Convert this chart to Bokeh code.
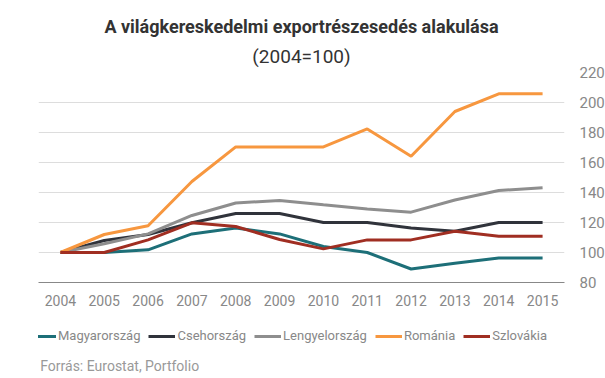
from bokeh.plotting import figure
from bokeh.models import (ColumnDataSource, Legend, LegendItem, Title, FixedTicker,
                          LinearAxis, Range1d, Label)
from bokeh.layouts import column
from bokeh.embed import file_html
from bokeh.resources import INLINE

years = [2004, 2005, 2006, 2007, 2008, 2009, 2010, 2011, 2012, 2013, 2014, 2015]
magyarorszag = [100, 100, 101.8, 112.4, 116.4, 112.4, 104, 100, 89, 92.9, 96.4, 96.4]
csehorszag = [100, 108, 112, 119.8, 126, 126, 120, 120, 116.4, 114.2, 120, 120]
lengyelorszag = [100, 105.8, 112.4, 124.7, 133, 134.7, 131.8, 129, 126.9, 135, 141.3, 143.1]
romania = [100, 112, 117.8, 147.3, 170.4, 170.4, 170.4, 182.4, 164.2, 194, 205.8, 205.8]
szlovakia = [100, 100, 108.4, 119.8, 117.3, 108.7, 102.4, 108.4, 108.4, 114.2, 110.9, 110.9]

series_names = ["Magyarország", "Csehország", "Lengyelország", "Románia", "Szlovákia"]
series_values = [magyarorszag, csehorszag, lengyelorszag, romania, szlovakia]
colors = ["#1d6f78", "#30333b", "#8e8e8e", "#f7973f", "#a02e22"]
y_ticks = [80, 100, 120, 140, 160, 180, 200, 220]

FONT = "Roboto"

p = figure(frame_width=526, frame_height=210, output_backend="svg", toolbar_location=None,
           x_range=Range1d(2003.5, 2015.5), y_range=Range1d(80, 220),
           y_axis_location=None, x_axis_location=None,
           min_border_left=38, min_border_right=0, min_border_top=72,
           min_border_bottom=0, outline_line_color=None)
p.background_fill_color = "white"
p.border_fill_color = "white"

# Titles
p.title.visible = False
sub = Title(text="(2004=100)", align="center", text_font=FONT, text_font_size="19px",
            text_font_style="normal", text_color="#333333", standoff=10)
main = Title(text="A világkereskedelmi exportrészesedés alakulása", align="center",
             text_font=FONT, text_font_size="18px", text_font_style="bold",
             text_color="#333333", standoff=1)
p.add_layout(sub, "above")
p.add_layout(main, "above")

# Axes
xaxis = LinearAxis(ticker=FixedTicker(ticks=years))
xaxis.axis_line_color = "#888888"
xaxis.axis_line_width = 1
xaxis.major_tick_line_color = None
xaxis.minor_tick_line_color = None
xaxis.major_tick_out = 0
xaxis.major_tick_in = 0
xaxis.major_label_text_font = FONT
xaxis.major_label_text_font_size = "14px"
xaxis.major_label_text_color = "#888888"
xaxis.major_label_standoff = 12
p.add_layout(xaxis, "below")

yaxis = LinearAxis(ticker=FixedTicker(ticks=y_ticks))
yaxis.axis_line_color = None
yaxis.major_tick_line_color = None
yaxis.minor_tick_line_color = None
yaxis.major_tick_out = 0
yaxis.major_tick_in = 0
yaxis.major_label_text_font = FONT
yaxis.major_label_text_font_size = "15px"
yaxis.major_label_text_color = "#888888"
yaxis.major_label_standoff = 15
p.add_layout(yaxis, "right")

p.xgrid.visible = False
p.ygrid.ticker = FixedTicker(ticks=y_ticks)
p.ygrid.grid_line_color = "#dddddd"
p.ygrid.grid_line_width = 1

sources = []
for name, vals, col in zip(series_names, series_values, colors):
    src = ColumnDataSource(dict(x=years, y=vals))
    sources.append(src)
    p.line("x", "y", source=src, line_color=col, line_width=3)

# Footer figure: legend + source (its lines lie outside its visible range)
f = figure(width=597, height=66, output_backend="svg", toolbar_location=None,
           x_range=Range1d(0, 597), y_range=Range1d(0, 66),
           x_axis_location=None, y_axis_location=None,
           min_border_left=0, min_border_right=0, min_border_top=0,
           min_border_bottom=0, outline_line_color=None)
f.grid.visible = False
f.title.visible = False
f.background_fill_color = "white"
f.border_fill_color = "white"

items = []
for name, src, col in zip(series_names, sources, colors):
    r = f.line("x", "y", source=src, line_color=col, line_width=3)
    items.append(LegendItem(label=name, renderers=[r]))

legend = Legend(items=items, orientation="horizontal", location=(-9, 31),
                label_text_font=FONT, label_text_font_size="13px",
                label_text_color="#888888", glyph_width=27, glyph_height=10,
                label_standoff=2, spacing=8, padding=12, margin=0,
                border_line_color=None, background_fill_alpha=0)
f.add_layout(legend, "center")

src_label = Label(x=2, y=9, text="Forrás: Eurostat, Portfolio", text_font=FONT,
                  text_font_size="14px", text_color="#999999",
                  text_baseline="middle")
f.add_layout(src_label)

layout = column(p, f, spacing=0)
open("out.html", "w").write(file_html(layout, INLINE))
